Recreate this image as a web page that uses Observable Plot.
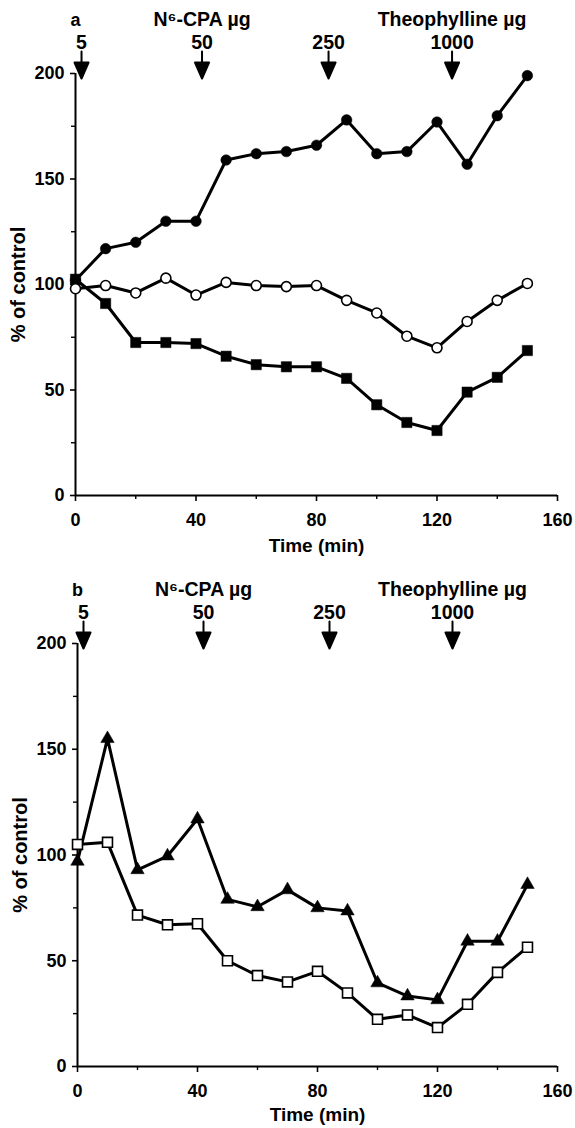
<!DOCTYPE html>
<html><head><meta charset="utf-8">
<script src="https://cdn.jsdelivr.net/npm/d3@7"></script>
<script src="https://cdn.jsdelivr.net/npm/@observablehq/plot@0.6"></script>
<style>
body{margin:0;background:#fff}
svg{display:block}
</style>
</head><body><div id="chart"></div>
<script>
// ---- data ----
const time = [0,10,20,30,40,50,60,70,80,90,100,110,120,130,140,150];
const aFilledCircle = [102,117,120,130,130,159,162,163,166,178,162,163,177,157,180,199];
const aOpenCircle   = [98,99.5,96,103,95,101,99.5,99,99.5,92.5,86.5,75.5,70,82.5,92.5,100.5];
const aFilledSquare = [102.5,91,72.5,72.5,72,66,62,61,61,55.5,43,34.6,30.8,49,56,68.7];
const bFilledTriangle = [97,155,93,99.5,117,79,75.5,83.5,75,73.5,39.5,33.3,31.5,59.2,59.2,86];
const bOpenSquare     = [105,106,71.6,67,67.5,50,43,40,45,34.8,22.3,24.4,18.4,29.4,44.5,56.4];

const doseTimes  = [2,42,84,125];
const doseLabels = ["5","50","250","1000"];
const drugLabels = ["N\u2076-CPA \u00b5g","Theophylline \u00b5g"];
const drugDoseIndex = [1,3];

const yTicks = [0,50,100,150,200];
const yMinor = [25,75,125,175];
const xTicks = [0,40,80,120,160];
const xMinor = [20,60,100,140];
const xLabel = "Time (min)";
const yLabel = "% of control";

const FONT = "'Liberation Sans', Arial, Helvetica, sans-serif";

const doses = doseTimes.map((t,i)=>({t, label: doseLabels[i]}));
const drugs = drugLabels.map((label,i)=>({t: doseTimes[drugDoseIndex[i]], label}));

const arrowShape = {
  draw(ctx, l) {
    const h = 16, w = 7;
    ctx.moveTo(0, 0);
    ctx.lineTo(0, -l + h);
    ctx.moveTo(-w, -l + h);
    ctx.lineTo(w, -l + h);
    ctx.lineTo(0, -l);
    ctx.closePath();
  }
};

function panel(letter, series, o) {
  const marks = [
    Plot.ruleY([0], {strokeWidth: 2}),
    Plot.ruleX([0], {strokeWidth: 2}),
    Plot.axisY(yTicks, {tickSize: 5, tickPadding: 6, strokeWidth: 1.6, label: null, fontSize: 18, fontWeight: "bold"}),
    Plot.axisY(yMinor, {tickSize: 4, strokeWidth: 1.4, tickFormat: () => "", label: null}),
    Plot.axisX(xTicks, {tickSize: 6, tickPadding: 12, strokeWidth: 1.6, label: null, fontSize: 18, fontWeight: "bold"}),
    Plot.axisX(xMinor, {tickSize: 4, strokeWidth: 1.4, tickFormat: () => "", label: null}),
    Plot.text([xLabel], {frameAnchor: "bottom", dy: o.xLabelDy, text: d => d, fontSize: 19, fontWeight: "bold", lineAnchor: "middle"}),
    Plot.text([yLabel], {frameAnchor: "left", dx: -57, rotate: -90, textAnchor: "middle", text: d => d, fontSize: 20, fontWeight: "bold"}),
    // header annotations
    Plot.text([letter], {x: () => 0, frameAnchor: "top", dy: -48, lineAnchor: "bottom", text: d => d, fontSize: 18, fontWeight: "bold"}),
    Plot.text(drugs, {x: "t", frameAnchor: "top", dy: -48, lineAnchor: "bottom", text: "label", fontSize: 19.5, fontWeight: "bold"}),
    Plot.text(doses, {x: "t", frameAnchor: "top", dy: -25, lineAnchor: "bottom", text: "label", fontSize: 19.5, fontWeight: "bold"}),
    Plot.vector(doses, {x: "t", frameAnchor: "top", dy: 5, length: 27, rotate: 180, anchor: "end", shape: arrowShape, stroke: "black", fill: "black", strokeWidth: 2})
  ];
  for (const s of series) {
    const data = time.map((t,i)=>({t, v: s.values[i]}));
    marks.push(Plot.line(data, {x: "t", y: "v", stroke: "black", strokeWidth: 3}));
  }
  for (const s of series) {
    const data = time.map((t,i)=>({t, v: s.values[i]}));
    marks.push(Plot.dot(data, {x: "t", y: "v", symbol: s.symbol, r: s.r, fill: s.fill, stroke: "black", strokeWidth: s.fill === "white" ? 1.6 : 0.5}));
  }
  return Plot.plot({
    width: 575,
    height: o.height,
    marginTop: o.marginTop,
    marginBottom: o.marginBottom,
    marginLeft: o.marginLeft,
    marginRight: 18,
    style: {fontFamily: FONT, color: "black", background: "white"},
    x: {domain: [0,160], axis: null},
    y: {domain: [0,200], axis: null},
    marks
  });
}

const chart = document.getElementById("chart");
chart.append(panel("a", [
  {values: aFilledSquare, symbol: "square", fill: "black", r: 5.8},
  {values: aFilledCircle, symbol: "circle", fill: "black", r: 5.3},
  {values: aOpenCircle, symbol: "circle", fill: "white", r: 5}
], {height: 560, marginTop: 73, marginBottom: 65, marginLeft: 75, xLabelDy: 50}));
chart.append(panel("b", [
  {values: bOpenSquare, symbol: "square", fill: "white", r: 5.6},
  {values: bFilledTriangle, symbol: "triangle", fill: "black", r: 5}
], {height: 568, marginTop: 83, marginBottom: 62, marginLeft: 77, xLabelDy: 48}));
</script>
</body></html>
